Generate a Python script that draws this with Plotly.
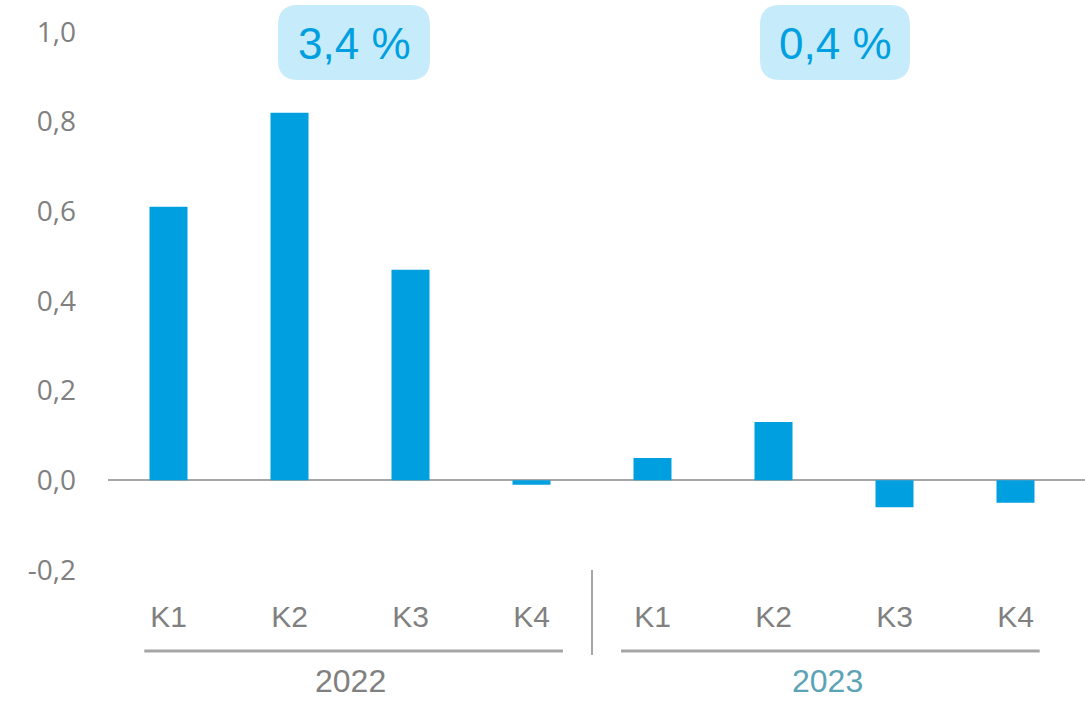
import plotly.graph_objects as go

years = ["2022", "2023"]
quarters = ["K1", "K2", "K3", "K4"]
values = [0.61, 0.82, 0.47, -0.01, 0.05, 0.13, -0.06, -0.05]
year_totals = ["3,4 %", "0,4 %"]
y_ticks = [-0.2, 0.0, 0.2, 0.4, 0.6, 0.8, 1.0]
y_tick_text = ["-0,2", "0,0", "0,2", "0,4", "0,6", "0,8", "1,0"]

cats = [f"{y} {q}" for y in years for q in quarters]
tick_text = [q for y in years for q in quarters]

W, H = 1085, 701
L, R, T, B = 108, 0, 10, 131
PW, PH = W - L - R, H - T - B

def px(x):
    return (x - L) / PW

def py(y):
    return (H - B - y) / PH

def rounded_rect(x0, x1, y0, y1, r):
    X0, X1 = px(x0), px(x1)
    Y0, Y1 = py(y0), py(y1)
    rx, ry = r / PW, r / PH
    return (f"M {X0+rx},{Y0} L {X1-rx},{Y0} Q {X1},{Y0} {X1},{Y0-ry} "
            f"L {X1},{Y1+ry} Q {X1},{Y1} {X1-rx},{Y1} L {X0+rx},{Y1} "
            f"Q {X0},{Y1} {X0},{Y1+ry} L {X0},{Y0-ry} Q {X0},{Y0} {X0+rx},{Y0} Z")

narrow = "Liberation Sans Narrow, Arial Narrow, sans-serif"
gray = "#808080"
line_gray = "#a6a6a6"
blue = "#009fe0"

fig = go.Figure(go.Bar(x=cats, y=values, marker=dict(color=blue, line=dict(width=0)),
                       width=0.314, hoverinfo="skip"))

shapes = []
annotations = []
for i, (bx0, bx1) in enumerate([(278, 430), (760, 910)]):
    shapes.append(dict(type="path", xref="paper", yref="paper",
                       path=rounded_rect(bx0, bx1, 5, 80, 20),
                       fillcolor="#c6ecfb", line=dict(width=0), layer="below"))
    annotations.append(dict(xref="paper", yref="paper", x=px((bx0 + bx1) / 2), y=py(43),
                            text=year_totals[i], showarrow=False,
                            font=dict(family=narrow, size=44, color=blue),
                            xanchor="center", yanchor="middle"))
for i, (lx0, lx1, cx, col) in enumerate([(-0.2, 3.26, 1.5, gray), (3.74, 7.2, 5.45, "#5ba3b5")]):
    shapes.append(dict(type="line", xref="x", yref="paper", x0=lx0, x1=lx1,
                       y0=py(651), y1=py(651), line=dict(color=line_gray, width=3)))
    annotations.append(dict(xref="x", yref="paper", x=cx, y=py(681), text=years[i],
                            showarrow=False, font=dict(family=narrow, size=32, color=col),
                            xanchor="center", yanchor="middle", borderpad=0))
shapes.append(dict(type="line", xref="x", yref="paper", x0=3.5, x1=3.5,
                   y0=py(570), y1=py(655), line=dict(color=line_gray, width=2)))

fig.update_layout(
    width=W, height=H, margin=dict(l=L, r=R, t=T, b=B),
    paper_bgcolor="white", plot_bgcolor="white",
    showlegend=False, shapes=shapes, annotations=annotations,
    xaxis=dict(type="category", range=[-0.5, -0.5 + PW / 121], showgrid=False,
               showline=False, zeroline=False, tickvals=cats, ticktext=tick_text,
               tickfont=dict(family=narrow, size=30, color=gray), ticks="",
               ticklabelstandoff=26),
    yaxis=dict(range=[-0.2, (H - B - T - (570 - 480)) / 448], showgrid=False,
               showline=False, zeroline=True, zerolinecolor=line_gray, zerolinewidth=2,
               tickvals=y_ticks, ticktext=y_tick_text, ticks="",
               tickfont=dict(family="Open Sans, sans-serif", size=28, color=gray),
               ticklabelstandoff=31, layer="above traces"),
)

fig.write_html("out.html", config={"displayModeBar": False},
               post_script="document.body.style.margin='0px';document.body.style.padding='0px';document.body.style.overflow='hidden';")
